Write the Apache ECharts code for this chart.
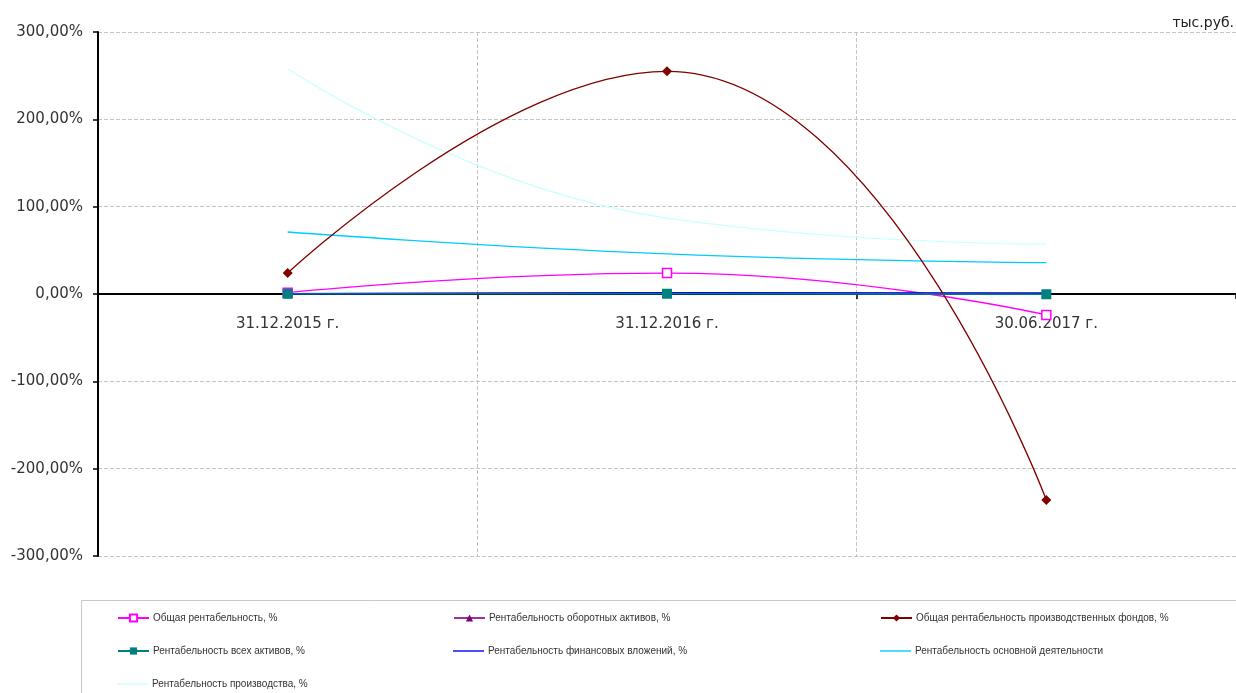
<!DOCTYPE html>
<html><head><meta charset="utf-8">
<script src="https://cdn.jsdelivr.net/npm/echarts@6/dist/echarts.min.js"></script>
<style>html,body{margin:0;padding:0;background:#fff}#c{width:1236px;height:693px}</style>
</head><body><div id="c"></div>
<script>
const categories = ['31.12.2015 г.', '31.12.2016 г.', '30.06.2017 г.'];
const yTicks = [-300, -200, -100, 0, 100, 200, 300];
const unitLabel = 'тыс.руб.';

const names = [
  'Общая рентабельность, %',
  'Рентабельность оборотных активов, %',
  'Общая рентабельность производственных фондов, %',
  'Рентабельность всех активов, %',
  'Рентабельность финансовых вложений, %',
  'Рентабельность основной деятельности',
  'Рентабельность производства, %'
];
const obshaya = [1.5, 24, -24];
const oborotnye = [0.5, 1.5, -0.5];
const proizvFondy = [24, 255, -236];
const vseAktivy = [0.2, 0.3, -0.3];
const finVlozh = [0.3, 1.5, 1.2];
const osnDeyat = [71, 46, 36];
const proizvodstvo = [258, 87, 57];

const chart = echarts.init(document.getElementById('c'), null, {renderer: 'canvas'});
const fontFam = '"DejaVu Sans", Verdana, sans-serif';
const legFont = '"Liberation Sans", Arial, sans-serif';

function line(name, data, color, symbol, symbolSize, extra) {
  return Object.assign({
    name, type: 'line', data, smooth: true,
    symbol: symbol || 'none', symbolSize: symbolSize || 0,
    showSymbol: !!symbol,
    lineStyle: {color, width: 1.3},
    itemStyle: {color},
    emphasis: {disabled: true},
    animation: false
  }, extra || {});
}

// legend placement: [name index, left, top, hasSymbol]
const legendSlots = [
  [0, 117, 613, true], [1, 453, 613, true], [2, 880, 613, true],
  [3, 117, 646, true], [4, 453, 646, false], [5, 880, 646, false],
  [6, 117, 679, false]
];
const legends = legendSlots.map(([i, left, top, sym]) => {
  const l = {
    left, top, padding: 0, itemWidth: 31, itemHeight: sym ? 9 : 12, selectedMode: false,
    textStyle: {fontFamily: legFont, fontSize: 10, color: '#333', padding: [0, 0, 0, -1]},
    data: [names[i]]
  };
  if (!sym) l.icon = 'path://M0,5.3L31,5.3L31,6.7L0,6.7Z';
  return l;
});

chart.setOption({
  animation: false,
  title: {text: unitLabel, right: -3, top: 11, textStyle: {fontFamily: fontFam, fontSize: 14, fontWeight: 'normal', color: '#222'}},
  grid: {left: 98, right: -2, top: 32, bottom: 137, containLabel: false},
  legend: legends,
  xAxis: [{
    type: 'category', data: categories, boundaryGap: true,
    axisLine: {onZero: true, lineStyle: {color: '#000', width: 2}},
    axisTick: {show: true, length: 5, inside: false, lineStyle: {color: '#000', width: 1.5}},
    axisLabel: {show: false},
    splitLine: {show: true, lineStyle: {color: '#c4c4c4', type: [4, 2], width: 1}}
  }, {
    type: 'category', data: categories, boundaryGap: true, position: 'bottom', offset: -262,
    axisLine: {show: false}, axisTick: {show: false}, splitLine: {show: false},
    axisLabel: {fontFamily: fontFam, fontSize: 15, color: '#333', margin: 23}
  }],
  yAxis: {
    type: 'value', min: yTicks[0], max: yTicks[yTicks.length-1], interval: 100,
    axisLine: {show: true, onZero: false, lineStyle: {color: '#000', width: 2}},
    axisTick: {show: true, length: 5, lineStyle: {color: '#000', width: 1.5}},
    axisLabel: {fontFamily: fontFam, fontSize: 15, color: '#333', margin: 15,
      formatter: v => v.toFixed(2).replace('.', ',') + '%'},
    splitLine: {show: true, lineStyle: {color: '#c4c4c4', type: [4, 2], width: 1}}
  },
  graphic: [{type: 'rect', shape: {x: 81.5, y: 600.5, width: 1160, height: 100}, style: {fill: 'none', stroke: '#c8c8c8', lineWidth: 1}, z: -1}],
  series: [
    line(names[6], proizvodstvo, '#CCFFFF', null, 0, {z: 2}),
    line(names[5], osnDeyat, '#00CCFF', null, 0, {z: 2}),
    line(names[0], obshaya, '#FF00FF', 'rect', 9, {itemStyle: {color: '#fff', borderColor: '#FF00FF', borderWidth: 1.5}, z: 3}),
    line(names[1], oborotnye, '#993399', 'triangle', 7, {itemStyle: {color: '#800080'}, z: 3}),
    line(names[4], finVlozh, '#0000FF', null, 0, {z: 3}),
    line(names[2], proizvFondy, '#800000', 'diamond', 10, {z: 4}),
    line(names[3], vseAktivy, '#008080', 'rect', 10, {z: 5})
  ]
});
</script></body></html>
